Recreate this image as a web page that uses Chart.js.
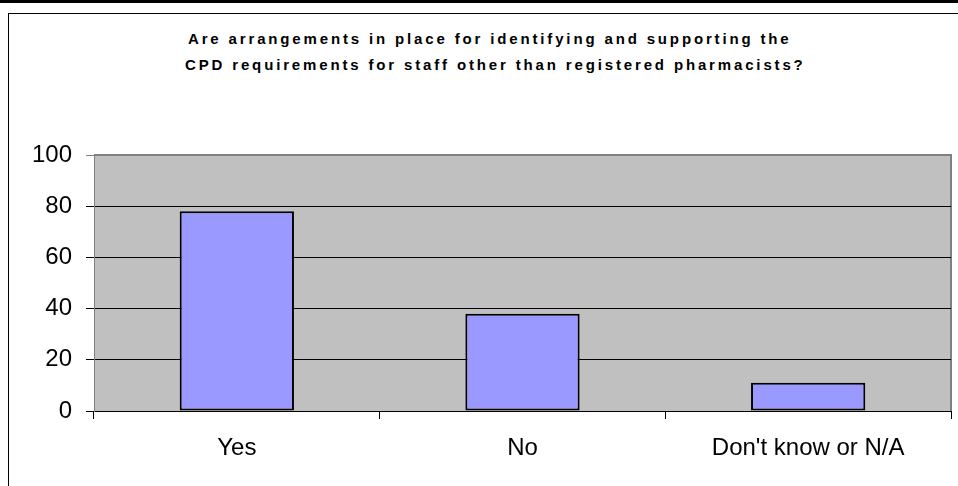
<!DOCTYPE html>
<html>
<head>
<meta charset="utf-8">
<style>
    html, body { margin: 0; padding: 0; background: #fff; }
    #wrap { position: relative; width: 958px; height: 486px; overflow: hidden; }
    #chart { position: absolute; left: 0; top: 0; }
    .rule { position: absolute; background: #000; }
    .title-line {
        position: absolute;
        font: bold 15px "Liberation Sans", Arial, sans-serif;
        line-height: 16px;
        letter-spacing: 2.85px;
        white-space: nowrap;
        color: #000;
    }
</style>
<script src="https://cdn.jsdelivr.net/npm/chart.js@4.4.0/dist/chart.umd.min.js"></script>
</head>
<body>
<div id="wrap">
    <!-- table edge above the chart -->
    <div class="rule" style="left:0;top:0;width:958px;height:3px;"></div>
    <div class="rule" style="left:501px;top:0;width:1px;height:3px;"></div>
    <div class="rule" style="left:638px;top:0;width:1px;height:3px;"></div>
    <div class="rule" style="left:744px;top:0;width:1px;height:3px;"></div>
    <div class="rule" style="left:904px;top:0;width:1px;height:3px;"></div>
    <!-- chart frame -->
    <div class="rule" style="left:8px;top:13px;width:950px;height:1px;"></div>
    <div class="rule" style="left:8px;top:13px;width:1px;height:473px;"></div>

    <div class="title-line" style="left:188px;top:31px;">Are arrangements in place for identifying and supporting the</div>
    <div class="title-line" style="left:185px;top:57px;">CPD requirements for staff other than registered pharmacists?</div>

    <canvas id="chart" width="958" height="486"></canvas>
</div>

<script>
const categories = ['Yes', 'No', "Don't know or N/A"];
const responses = [78, 38, 11];
const yTicks = [0, 20, 40, 60, 80, 100];

// grey plot background with a darker frame, drawn under the axes
const plotBackground = {
    id: 'plotBackground',
    beforeDraw(chart) {
        const { ctx, chartArea: a } = chart;
        ctx.save();
        ctx.fillStyle = '#C0C0C0';
        ctx.fillRect(a.left, a.top, a.right - a.left, a.bottom - a.top);
        ctx.strokeStyle = '#808080';
        ctx.lineWidth = 2;
        ctx.beginPath();
        ctx.moveTo(a.left, a.top);
        ctx.lineTo(a.right, a.top);
        ctx.lineTo(a.right, a.bottom);
        ctx.stroke();
        ctx.restore();
    }
};

document.addEventListener('DOMContentLoaded', function() {
    const ctx = document.getElementById('chart').getContext('2d');

    new Chart(ctx, {
        type: 'bar',
        data: {
            labels: categories,
            datasets: [{
                data: responses,
                backgroundColor: '#9999FF',
                borderColor: '#000000',
                borderWidth: 2,
                borderSkipped: false,
                categoryPercentage: 1,
                barPercentage: 0.4
            }]
        },
        options: {
            responsive: false,
            animation: false,
            layout: {
                padding: { left: 0, right: 7, top: 155, bottom: 0 }
            },
            plugins: {
                legend: { display: false },
                tooltip: { enabled: false }
            },
            scales: {
                x: {
                    grid: {
                        drawOnChartArea: false,
                        tickLength: 8,
                        color: '#000000'
                    },
                    border: { color: '#000000', width: 1 },
                    ticks: {
                        padding: 15,
                        color: '#000000',
                        font: { family: '"Liberation Sans", Arial', size: 24 }
                    },
                    afterFit(scale) {
                        scale.height = 75;
                    }
                },
                y: {
                    min: 0,
                    max: 100,
                    afterBuildTicks(scale) {
                        scale.ticks = yTicks.map(v => ({ value: v }));
                    },
                    grid: {
                        tickLength: 8,
                        color: ctx => ctx.tick && ctx.tick.value === 100 ? '#808080' : '#000000',
                        lineWidth: 1
                    },
                    border: { color: '#808080', width: 1 },
                    ticks: {
                        padding: 14,
                        color: '#000000',
                        font: { family: '"Liberation Sans", Arial', size: 24 }
                    },
                    afterFit(scale) {
                        scale.width = 94;
                    }
                }
            }
        },
        plugins: [plotBackground]
    });
});
</script>
</body>
</html>
